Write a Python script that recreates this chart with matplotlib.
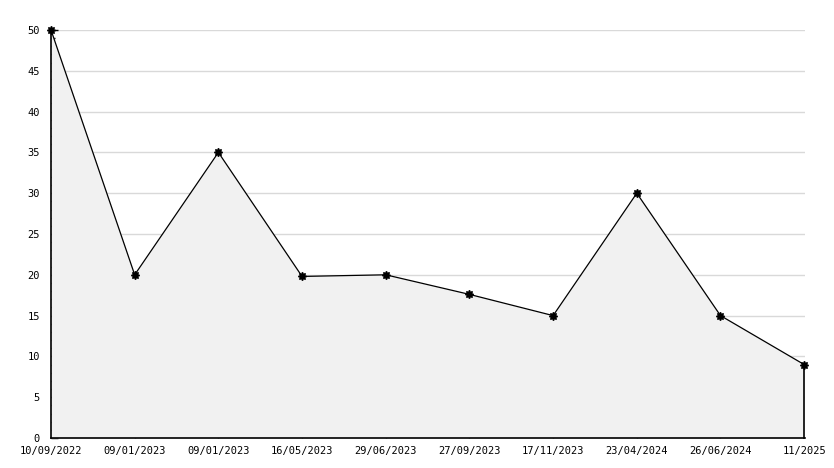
import matplotlib
matplotlib.use("Agg")
import matplotlib.pyplot as plt
from matplotlib.ticker import MultipleLocator

labels = ["10/09/2022", "09/01/2023", "09/01/2023", "16/05/2023", "29/06/2023",
          "27/09/2023", "17/11/2023", "23/04/2024", "26/06/2024", "11/2025"]
values = [50, 20, 35, 19.8, 20, 17.6, 15, 30, 15, 9]

plt.rcParams['font.family'] = ['DejaVu Sans Mono']
fig = plt.figure(figsize=(8.34, 4.68), dpi=100)
ax = fig.add_axes([51/834, 30/468, (805-51)/834, (438-30)/468])

x = list(range(len(values)))
ax.fill_between(x, values, 0, color="#f1f1f1", zorder=1, linewidth=0)
ax.plot(x, values, color="black", linewidth=0.9, zorder=3,
        marker=(8, 1, 0), markersize=6, markerfacecolor="black", clip_on=False)
ax.plot([x[-1], x[-1]], [0, values[-1]], color="black", linewidth=1.2, zorder=3, clip_on=False)

ax.set_xlim(0, len(values) - 1 + 0.01)
ax.set_ylim(0, 50)
ax.set_xticks(x)
ax.set_xticklabels(labels, fontsize=7.5)
ax.yaxis.set_major_locator(MultipleLocator(5))
ax.yaxis.set_minor_locator(MultipleLocator(1))
ax.tick_params(axis='y', which='major', direction='in', length=5, width=1, labelsize=7.5, pad=8)
ax.tick_params(axis='y', which='minor', direction='in', length=3, width=1)
ax.tick_params(axis='x', which='major', direction='in', length=5, width=1, labelsize=7.5, pad=6)
xt = ax.xaxis.get_major_ticks()
for t in (xt[0], xt[-1]):
    t.tick1line.set_visible(False)
ax.grid(axis='y', color="#d9d9d9", linewidth=1, zorder=0)
ax.set_axisbelow(True)
for s in ['top', 'right']:
    ax.spines[s].set_visible(False)
ax.spines['left'].set_linewidth(1.2)
ax.spines['bottom'].set_linewidth(1.2)

fig.savefig("out.png", dpi=100)
